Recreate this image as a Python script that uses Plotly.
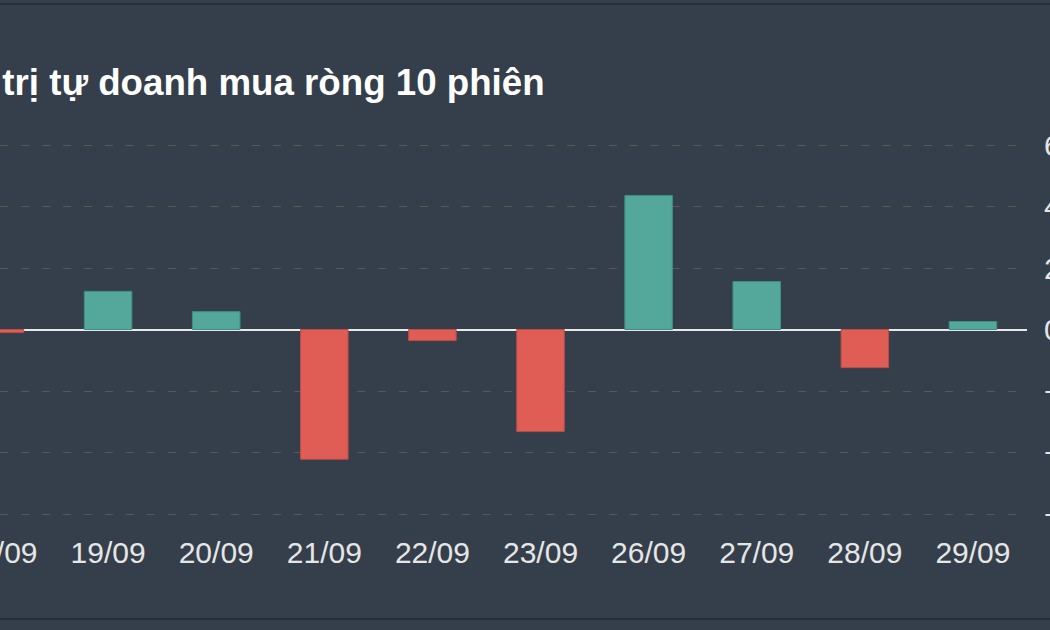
import plotly.graph_objects as go

categories = ["18/09", "19/09", "20/09", "21/09", "22/09", "23/09", "26/09", "27/09", "28/09", "29/09"]
values = [-1.0, 12.4, 5.8, -42.2, -3.6, -33.2, 43.6, 15.6, -12.4, 2.6]
y_ticks = [-60, -40, -20, 0, 20, 40, 60]
title_text = "Giá trị tự doanh mua ròng 10 phiên"

POS = "#53a89b"
NEG = "#e05d55"
BG = "#343f4b"

colors = [POS if v >= 0 else NEG for v in values]
lines = ["#3e8e83" if v >= 0 else "#b94c46" for v in values]

fig = go.Figure()
fig.add_trace(go.Bar(
    x=list(range(len(categories))),
    y=values,
    marker=dict(color=colors, line=dict(color=lines, width=1)),
    width=0.44,
    hoverinfo="skip",
))

W, H = 1050, 630
ml, mr, mt, mb = 0, 23, 143, 114
plot_h = H - mt - mb

def py(ypx):
    return (H - mb - ypx) / plot_h

fig.update_layout(
    width=W, height=H,
    margin=dict(l=ml, r=mr, t=mt, b=mb, pad=0),
    paper_bgcolor=BG, plot_bgcolor=BG,
    showlegend=False,
    font=dict(family="Liberation Sans, Arial, sans-serif", color="#e6e6e6"),
    xaxis=dict(
        range=[0, 9.5],
        tickmode="array",
        tickvals=list(range(len(categories))),
        ticktext=categories,
        showgrid=False, zeroline=False, showline=False,
        ticks="", tickfont=dict(size=30, color="#e6e6e6"),
        ticklabelstandoff=16,
        ticklabeloverflow="allow",
        automargin=False,
        fixedrange=True,
    ),
    yaxis=dict(
        side="right",
        range=[-60.65, 60.65],
        tickmode="array",
        tickvals=y_ticks,
        showgrid=True, gridcolor="#5e5750", gridwidth=1, griddash="8px,13px",
        zeroline=True, zerolinecolor="#e8e8e8", zerolinewidth=2,
        showline=False, ticks="",
        tickfont=dict(size=30, color="#e6e6e6"),
        ticklabelstandoff=16,
        ticklabeloverflow="allow",
        automargin=False,
        fixedrange=True,
    ),
    annotations=[dict(
        text="<b>" + title_text + "</b>",
        xref="paper", yref="paper",
        x=547 / (W - ml - mr), y=py(83),
        xanchor="right", yanchor="middle",
        showarrow=False,
        font=dict(size=36.7, color="#ffffff", family="Liberation Sans, Arial, sans-serif"),
    )],
    shapes=[
        dict(type="line", xref="paper", yref="paper", x0=-0.05, x1=1.1, y0=py(4), y1=py(4),
             line=dict(color="#252d36", width=2)),
        dict(type="line", xref="paper", yref="paper", x0=-0.05, x1=1.1, y0=py(619), y1=py(619),
             line=dict(color="#252d36", width=2)),
    ],
)

fig.write_html("out.html")
